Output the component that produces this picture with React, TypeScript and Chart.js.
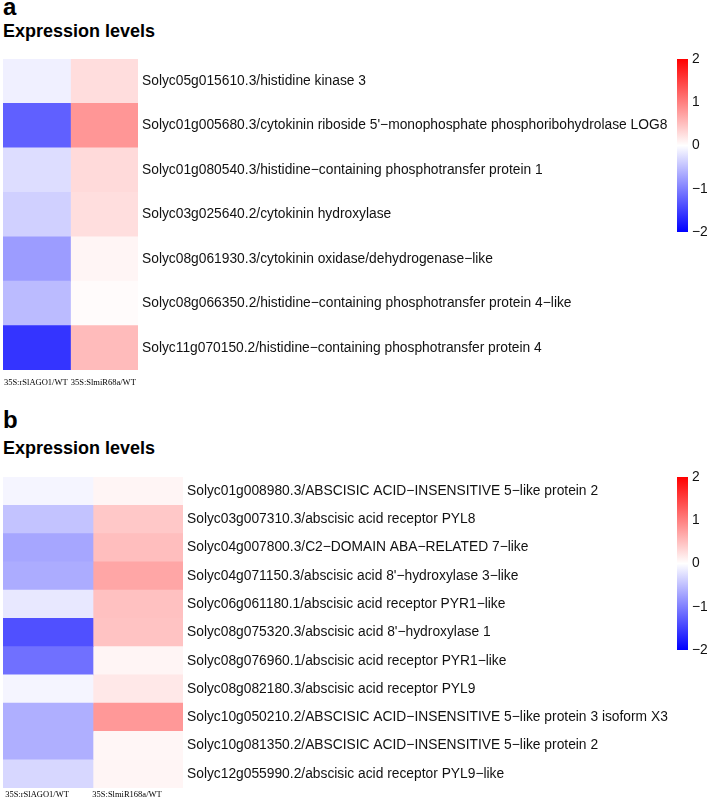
import React, { useEffect, useRef } from "react";
import { Chart, registerables } from "chart.js";

Chart.register(...registerables);

// ---------- data ----------
const colLabelsA = ["35S:rSlAGO1/WT", "35S:SlmiR68a/WT"];
const rowLabelsA = [
  "Solyc05g015610.3/histidine kinase 3",
  "Solyc01g005680.3/cytokinin riboside 5'\u2212monophosphate phosphoribohydrolase LOG8",
  "Solyc01g080540.3/histidine\u2212containing phosphotransfer protein 1",
  "Solyc03g025640.2/cytokinin hydroxylase",
  "Solyc08g061930.3/cytokinin oxidase/dehydrogenase\u2212like",
  "Solyc08g066350.2/histidine\u2212containing phosphotransfer protein 4\u2212like",
  "Solyc11g070150.2/histidine\u2212containing phosphotransfer protein 4",
];
const valuesA_AGO1 = [-0.12, -1.25, -0.27, -0.37, -0.78, -0.53, -1.59];
const valuesA_miR = [0.27, 0.82, 0.29, 0.26, 0.08, 0.03, 0.53];

const colLabelsB = ["35S:rSlAGO1/WT", "35S:SlmiR168a/WT"];
const rowLabelsB = [
  "Solyc01g008980.3/ABSCISIC ACID\u2212INSENSITIVE 5\u2212like protein 2",
  "Solyc03g007310.3/abscisic acid receptor PYL8",
  "Solyc04g007800.3/C2\u2212DOMAIN ABA\u2212RELATED 7\u2212like",
  "Solyc04g071150.3/abscisic acid 8'\u2212hydroxylase 3\u2212like",
  "Solyc06g061180.1/abscisic acid receptor PYR1\u2212like",
  "Solyc08g075320.3/abscisic acid 8'\u2212hydroxylase 1",
  "Solyc08g076960.1/abscisic acid receptor PYR1\u2212like",
  "Solyc08g082180.3/abscisic acid receptor PYL9",
  "Solyc10g050210.2/ABSCISIC ACID\u2212INSENSITIVE 5\u2212like protein 3 isoform X3",
  "Solyc10g081350.2/ABSCISIC ACID\u2212INSENSITIVE 5\u2212like protein 2",
  "Solyc12g055990.2/abscisic acid receptor PYL9\u2212like",
];
const valuesB_AGO1 = [-0.08, -0.47, -0.7, -0.65, -0.18, -1.37, -1.12, -0.08, -0.63, -0.63, -0.31];
const valuesB_miR = [0.08, 0.43, 0.51, 0.7, 0.49, 0.47, 0.08, 0.18, 0.81, 0.07, 0.08];

const colorScaleMin = -2;
const colorScaleMax = 2;

// ---------- helpers ----------
function valueColor(v: number): string {
  const t = Math.min(1, Math.abs(v) / colorScaleMax);
  const c = Math.round(255 * (1 - t));
  return v < 0 ? `rgb(${c},${c},255)` : `rgb(255,${c},${c})`;
}

const SANS = "'Liberation Sans', Arial, sans-serif";

function zeroPadding(s: any) {
  s.paddingTop = 0;
  s.paddingBottom = 0;
  s.paddingLeft = 0;
  s.paddingRight = 0;
}

type HeatProps = {
  rows: string[];
  cols: string[];
  values: number[][];
  left: number;
  top: number;
  plotW: number;
  plotH: number;
  axisW: number;
  xAxisH: number;
  xPad: number;
  labelOffset: number;
};

function Heatmap(p: HeatProps) {
  const ref = useRef<HTMLCanvasElement>(null);
  const width = p.plotW + p.axisW;
  const height = p.plotH + p.xAxisH;
  useEffect(() => {
    const chart = new Chart(ref.current!, {
      type: "bar",
      data: {
        labels: p.rows,
        datasets: p.values.map((col, ci) => ({
          label: p.cols[ci],
          data: col.map(() => [ci, ci + 1]) as any,
          backgroundColor: col.map(valueColor),
          borderWidth: 0,
          barPercentage: 1,
          categoryPercentage: 1,
          grouped: false,
        })),
      },
      options: {
        indexAxis: "y",
        responsive: false,
        animation: false,
        layout: { padding: 0 },
        plugins: { legend: { display: false }, tooltip: { enabled: false } },
        scales: {
          x: {
            type: "linear",
            min: 0,
            max: p.cols.length,
            position: "bottom",
            grid: { display: false, drawTicks: false },
            border: { display: false },
            afterBuildTicks: (s: any) => {
              s.ticks = p.cols.map((_, i) => ({ value: i + 0.5 }));
            },
            afterFit: (s: any) => {
              s.height = p.xAxisH;
              zeroPadding(s);
            },
            ticks: {
              callback: (_v: any, i: number) => p.cols[i],
              padding: p.xPad,
              labelOffset: p.labelOffset,
              font: { family: "'Liberation Serif', serif", size: 8.5 },
              color: "#000",
              maxRotation: 0,
              autoSkip: false,
            },
          },
          y: {
            type: "category",
            position: "right",
            grid: { display: false, drawTicks: false },
            border: { display: false },
            afterFit: (s: any) => {
              s.width = p.axisW;
              zeroPadding(s);
            },
            ticks: {
              padding: 4,
              font: { family: SANS, size: 13.8 },
              color: "#111",
              autoSkip: false,
            },
          },
        },
      } as any,
    });
    return () => chart.destroy();
  }, []);
  return (
    <canvas
      ref={ref}
      width={width}
      height={height}
      style={{ position: "absolute", left: p.left, top: p.top, width, height }}
    />
  );
}

function ColorBar({ left, top }: { left: number; top: number }) {
  const ref = useRef<HTMLCanvasElement>(null);
  const width = 39;
  const height = 191;
  useEffect(() => {
    const chart = new Chart(ref.current!, {
      type: "bar",
      data: {
        labels: [""],
        datasets: [
          {
            data: [[colorScaleMin, colorScaleMax]] as any,
            backgroundColor: (ctx: any) => {
              const c = ctx.chart;
              const area = c.chartArea;
              const ys = c.scales && c.scales.y;
              if (!area || !ys) return "rgba(0,0,0,0)";
              let y0 = ys.getPixelForValue(colorScaleMin);
              let y1 = ys.getPixelForValue(colorScaleMax);
              if (!isFinite(y0) || !isFinite(y1)) {
                y0 = area.bottom;
                y1 = area.top;
              }
              if (!isFinite(y0) || !isFinite(y1)) return "rgba(0,0,0,0)";
              const g = c.ctx.createLinearGradient(0, y0, 0, y1);
              g.addColorStop(0, valueColor(colorScaleMin));
              g.addColorStop(0.5, valueColor(0));
              g.addColorStop(1, valueColor(colorScaleMax));
              return g;
            },
            borderWidth: 0,
            barPercentage: 1,
            categoryPercentage: 1,
          },
        ],
      },
      options: {
        responsive: false,
        animation: false,
        layout: { padding: { left: 7, top: 9, bottom: 9, right: 0 } },
        plugins: { legend: { display: false }, tooltip: { enabled: false } },
        scales: {
          x: { display: false },
          y: {
            position: "right",
            min: colorScaleMin,
            max: colorScaleMax,
            grid: { display: false, drawTicks: false },
            border: { display: false },
            afterFit: (s: any) => {
              s.width = 21;
              zeroPadding(s);
            },
            ticks: {
              stepSize: 1,
              padding: 4,
              callback: (v: any) => (v < 0 ? "\u2212" + Math.abs(v) : String(v)),
              font: { family: SANS, size: 13.8 },
              color: "#111",
            },
          },
        },
      } as any,
    });
    return () => chart.destroy();
  }, []);
  return (
    <canvas
      ref={ref}
      width={width}
      height={height}
      style={{ position: "absolute", left, top, width, height }}
    />
  );
}

const letterStyle: React.CSSProperties = {
  position: "absolute",
  left: 3,
  fontFamily: SANS,
  fontWeight: "bold",
  fontSize: 24,
  lineHeight: "24px",
  color: "#000",
  whiteSpace: "nowrap",
};
const titleStyle: React.CSSProperties = {
  position: "absolute",
  left: 3,
  fontFamily: SANS,
  fontWeight: "bold",
  fontSize: 18,
  lineHeight: "18px",
  color: "#000",
  whiteSpace: "nowrap",
};

export default function App() {
  return (
    <div
      style={{
        position: "absolute",
        left: 0,
        top: 0,
        width: 709,
        height: 809,
        background: "#fff",
        overflow: "hidden",
      }}
    >
      <div style={{ ...letterStyle, top: -5 }}>a</div>
      <div style={{ ...titleStyle, top: 22 }}>Expression levels</div>
      <Heatmap
        rows={rowLabelsA}
        cols={colLabelsA}
        values={[valuesA_AGO1, valuesA_miR]}
        left={3}
        top={59}
        plotW={135}
        plotH={311}
        axisW={535}
        xAxisH={22}
        xPad={8}
        labelOffset={-1}
      />
      <ColorBar left={670} top={50} />

      <div style={{ ...letterStyle, top: 408 }}>b</div>
      <div style={{ ...titleStyle, top: 439 }}>Expression levels</div>
      <Heatmap
        rows={rowLabelsB}
        cols={colLabelsB}
        values={[valuesB_AGO1, valuesB_miR]}
        left={3}
        top={477}
        plotW={180}
        plotH={311}
        axisW={500}
        xAxisH={20}
        xPad={2}
        labelOffset={-11}
      />
      <ColorBar left={670} top={468} />
    </div>
  );
}
